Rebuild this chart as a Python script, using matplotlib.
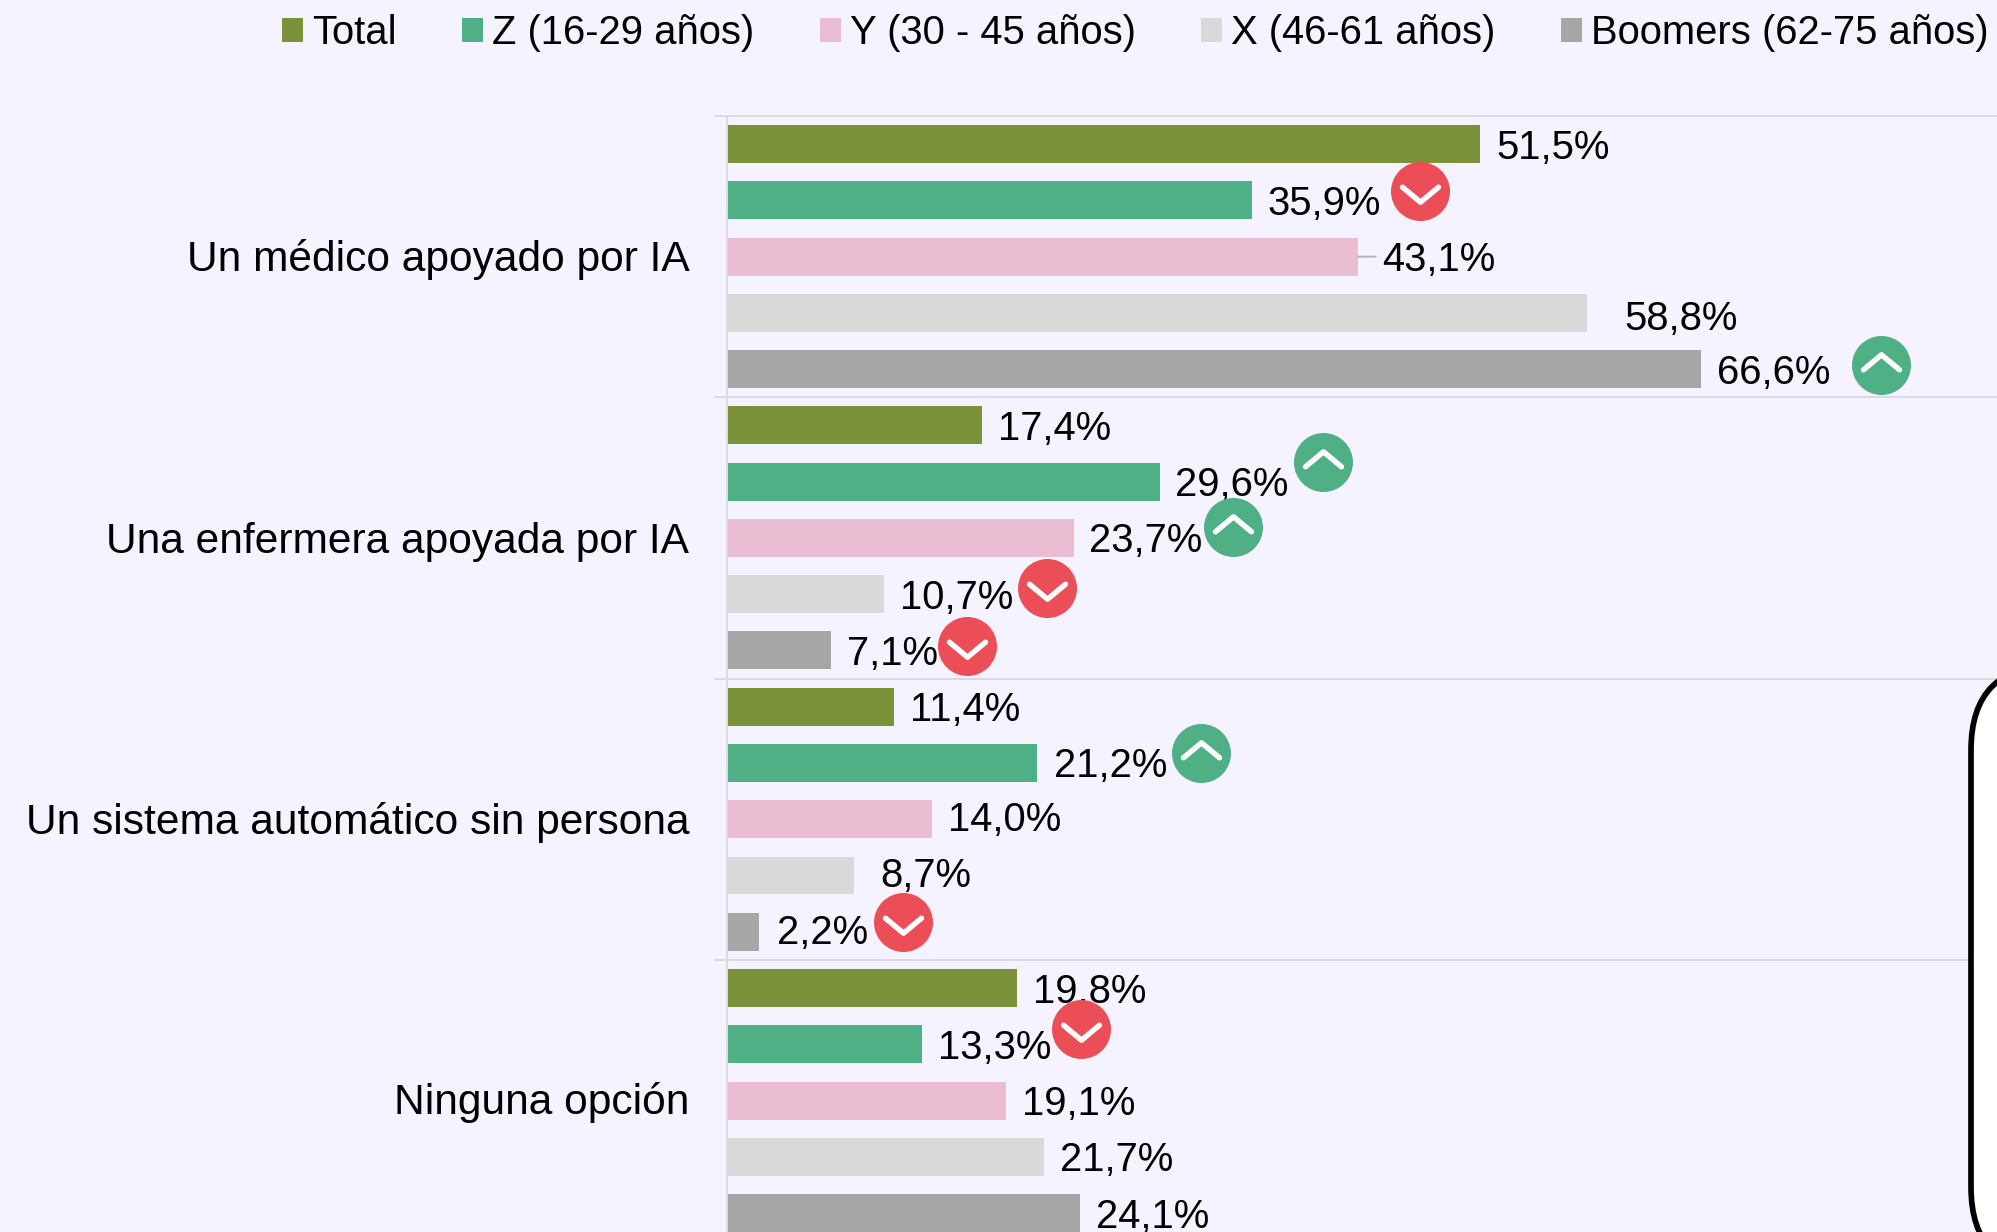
"""
Barras horizontales: preferencia por tipo de atencion, por generacion
"""
#%%
import matplotlib
matplotlib.use('Agg')
import numpy as np
import matplotlib.pyplot as plt
from matplotlib.markers import MarkerStyle
from matplotlib.path import Path
from matplotlib.patches import FancyBboxPatch
from matplotlib.transforms import offset_copy, ScaledTranslation
#%% data
categorias = ['Un médico apoyado por IA', 'Una enfermera apoyada por IA',
              'Un sistema automático sin persona', 'Ninguna opción']
series = ['Total', 'Z (16-29 años)', 'Y (30 - 45 años)', 'X (46-61 años)', 'Boomers (62-75 años)']
total = [51.5, 17.4, 11.4, 19.8]
gen_z = [35.9, 29.6, 21.2, 13.3]
gen_y = [43.1, 23.7, 14.0, 19.1]
gen_x = [58.8, 10.7, 8.7, 21.7]
boomers = [66.6, 7.1, 2.2, 24.1]
valores = [total, gen_z, gen_y, gen_x, boomers]
# (categoria, serie, sube?)
flechas = [(0, 1, False), (0, 4, True), (1, 1, True), (1, 2, True), (1, 3, False),
           (1, 4, False), (2, 1, True), (2, 4, False), (3, 1, False)]
#%% styles
colores = ['#7A933B', '#4FB086', '#EABDD3', '#D9D9D9', '#A6A6A6']
fondo = '#F5F3FF'
linea = '#DBDAE0'
rojo = '#EC4E58'
verde = '#4FB086'
W, H = 1997, 1232
fs = 28.8
plt.rcParams['font.family'] = ['Liberation Sans', 'DejaVu Sans']
# desplazamientos en pixeles de etiquetas y flechas
nudge_lab = {(0, 1): (15, 0), (0, 2): (25, 0), (0, 3): (37, -3), (1, 1): (15, 0), (1, 2): (15, 0),
             (2, 1): (17, 0), (2, 2): (16, 3), (2, 3): (26, 3), (2, 4): (18, 2)}
nudge_fle = [(168, 9), (180, 4), (163, 20), (159, 11), (163, 6), (136, 4), (164, 10), (144, 10), (159, 15)]
nudge_cat = [2, 0.5, 1, 3]
#%% axes
fig = plt.figure(figsize=(W/100, H/100), dpi=100, facecolor=fondo)
ax = fig.add_axes([727/W, 0, (W-727)/W, (H-116)/H], facecolor=fondo)
ax.set_xlim(0, (W-727)/14.63)
ax.set_ylim((H-116)/281.3, 0)
for s in ['right', 'bottom']:
    ax.spines[s].set_visible(False)
for s in ['left', 'top']:
    ax.spines[s].set_color(linea)
    ax.spines[s].set_linewidth(1.44)
ax.set_xticks([])
ax.set_yticks([0, 1, 2, 3])
ax.set_yticklabels([])
ax.tick_params(axis='y', which='major', length=9.4, width=1.44, color=linea, direction='out')
ax.set_yticks(np.arange(4)+0.5, minor=True)
ax.set_yticklabels(categorias, minor=True, fontsize=30.6, color='black')
ax.tick_params(axis='y', which='minor', length=0, pad=27)
for lab, dy in zip(ax.get_yticklabels(minor=True), nudge_cat):
    lab.set_transform(lab.get_transform() + ScaledTranslation(0, dy/100, fig.dpi_scale_trans))
ax.grid(axis='y', which='major', color=linea, linewidth=1.44)
ax.set_axisbelow(True)
#%% bars
barras = []
for i, vals in enumerate(valores):
    ys = np.arange(4) + (i+0.5)/5
    b = ax.barh(ys, vals, height=0.135, color=colores[i], label=series[i], zorder=2)
    barras.append(b)
    for c, v in enumerate(vals):
        dx, dy = nudge_lab.get((c, i), (16, 0))
        ax.annotate(f'{v:.1f}%'.replace('.', ','), xy=(v, ys[c]), xytext=(dx, dy+0.5),
                    textcoords='offset pixels', ha='left', va='center_baseline',
                    fontsize=fs, color='black', zorder=3)
# linea guia de 43,1%
ax.annotate('', xy=(gen_y[0], 0.5), xytext=(gen_y[0]+18/14.63, 0.5),
            arrowprops=dict(arrowstyle='-', color='#B5B5B5', lw=1.4, shrinkA=0, shrinkB=0))
#%% flechas
baja = Path([(-18, 4.3), (0, -10.7), (18, 4.3)], [Path.MOVETO, Path.LINETO, Path.LINETO])
sube = Path([(-18, -4.3), (0, 10.7), (18, -4.3)], [Path.MOVETO, Path.LINETO, Path.LINETO])
for (c, i, up), (dx, dy) in zip(flechas, nudge_fle):
    x = valores[i][c]
    y = c + (i+0.5)/5
    tr = offset_copy(ax.transData, fig, x=dx, y=dy, units='dots')
    ax.plot([x], [y], 'o', ms=59*0.72, mfc=verde if up else rojo, mec='none', transform=tr,
            zorder=4, clip_on=False)
    ax.plot([x], [y], linestyle='none', marker=MarkerStyle(sube if up else baja, fillstyle='none', capstyle='round'),
            ms=36*0.72, mec='white', mew=3.9, transform=tr, zorder=5, clip_on=False)
#%% recuadro blanco abajo a la derecha
caja = FancyBboxPatch((1971, H-1272), 400, 1272-665, boxstyle='round,pad=0,rounding_size=85',
                      fc='white', ec='black', lw=4.1, transform=None, zorder=6)
fig.add_artist(caja)
#%% legend
fig.legend(handles=[b[0] for b in barras], labels=series, ncol=5, frameon=False, fontsize=fs,
           loc='center right', bbox_to_anchor=(1989/W, 1-33/H), borderpad=0, borderaxespad=0,
           handlelength=0.525, handleheight=0.525, handletextpad=0.225, columnspacing=1.64)
fig.savefig('out.png', dpi=100, facecolor=fondo)
